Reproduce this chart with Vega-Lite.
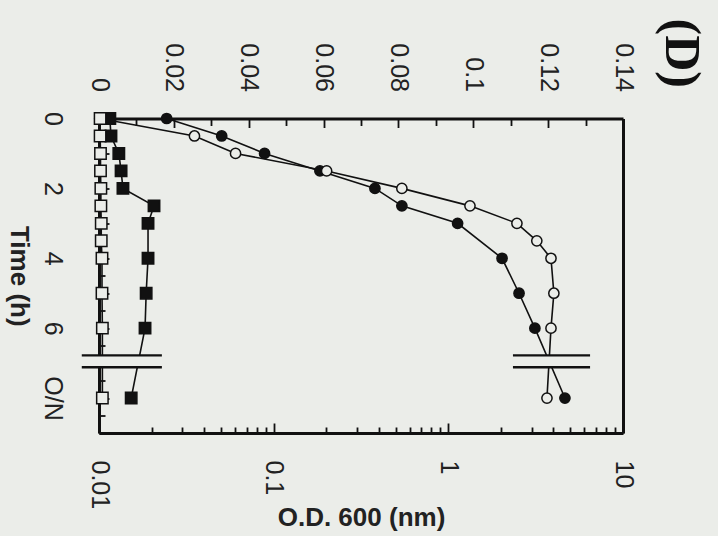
{
  "$schema": "https://vega.github.io/schema/vega-lite/v6.json",
  "width": 524,
  "height": 314.5,
  "autosize": {"type": "none"},
  "padding": {"left": 99, "top": 118.5, "right": 95, "bottom": 103},
  "background": "#ebede9",
  "config": {
    "view": {"stroke": null},
    "axis": {
      "grid": false,
      "domainColor": "#111",
      "domainWidth": 3,
      "tickColor": "#111",
      "tickWidth": 1.8,
      "labelFont": "Liberation Sans",
      "labelFontSize": 25,
      "labelColor": "#222",
      "titleFont": "Liberation Sans",
      "titleFontSize": 26,
      "titleFontWeight": "bold",
      "titleColor": "#222"
    }
  },
  "title": {
    "text": "(D)",
    "orient": "right",
    "anchor": "start",
    "frame": "group",
    "angle": 90,
    "baseline": "bottom",
    "align": "left",
    "font": "Liberation Serif",
    "fontWeight": "bold",
    "fontSize": 50,
    "color": "#111",
    "offset": -29,
    "dx": -100
  },
  "datasets": {
    "growth": [
      {"series": "closed", "time": 0, "od": 0.0244},
      {"series": "closed", "time": 0.5, "od": 0.0504},
      {"series": "closed", "time": 1, "od": 0.0887},
      {"series": "closed", "time": 1.5, "od": 0.184},
      {"series": "closed", "time": 2, "od": 0.38},
      {"series": "closed", "time": 2.5, "od": 0.542},
      {"series": "closed", "time": 3, "od": 1.13},
      {"series": "closed", "time": 4, "od": 2.03},
      {"series": "closed", "time": 5, "od": 2.54},
      {"series": "closed", "time": 6, "od": 3.13},
      {"series": "closed", "time": 8, "od": 4.65},
      {"series": "open", "time": 0, "od": 0.0101},
      {"series": "open", "time": 0.5, "od": 0.0352},
      {"series": "open", "time": 1, "od": 0.0605},
      {"series": "open", "time": 1.5, "od": 0.201},
      {"series": "open", "time": 2, "od": 0.542},
      {"series": "open", "time": 2.5, "od": 1.33},
      {"series": "open", "time": 3, "od": 2.47},
      {"series": "open", "time": 3.5, "od": 3.21},
      {"series": "open", "time": 4, "od": 3.87},
      {"series": "open", "time": 5, "od": 4.02},
      {"series": "open", "time": 6, "od": 3.87},
      {"series": "open", "time": 8, "od": 3.67}
    ],
    "activity": [
      {"series": "closed", "time": 0, "value": 0.0029},
      {"series": "closed", "time": 0.5, "value": 0.0032},
      {"series": "closed", "time": 1, "value": 0.0053},
      {"series": "closed", "time": 1.5, "value": 0.0059},
      {"series": "closed", "time": 2, "value": 0.0064},
      {"series": "closed", "time": 2.5, "value": 0.0147},
      {"series": "closed", "time": 3, "value": 0.0131},
      {"series": "closed", "time": 4, "value": 0.0131},
      {"series": "closed", "time": 5, "value": 0.0126},
      {"series": "closed", "time": 6, "value": 0.0123},
      {"series": "closed", "time": 8, "value": 0.0086},
      {"series": "open", "time": 0, "value": 0.0003},
      {"series": "open", "time": 0.5, "value": 0.0003},
      {"series": "open", "time": 1, "value": 0.0004},
      {"series": "open", "time": 1.5, "value": 0.0004},
      {"series": "open", "time": 2, "value": 0.0005},
      {"series": "open", "time": 2.5, "value": 0.0005},
      {"series": "open", "time": 3, "value": 0.0006},
      {"series": "open", "time": 3.5, "value": 0.0006},
      {"series": "open", "time": 4, "value": 0.0008},
      {"series": "open", "time": 5, "value": 0.0008},
      {"series": "open", "time": 6, "value": 0.0009},
      {"series": "open", "time": 8, "value": 0.0009}
    ],
    "breakBands": [
      {"time": 6.78, "time_end": 7.12, "value": -0.0046, "value_end": 0.0168},
      {"time": 6.78, "time_end": 7.12, "value": 0.1106, "value_end": 0.1312}
    ],
    "breakLines": [
      {"time": 6.78, "value": -0.0046, "value_end": 0.0168},
      {"time": 7.12, "value": -0.0046, "value_end": 0.0168},
      {"time": 6.78, "value": 0.1106, "value_end": 0.1312},
      {"time": 7.12, "value": 0.1106, "value_end": 0.1312}
    ]
  },
  "layer": [
    {
      "data": {"name": "growth"},
      "encoding": {
        "x": {
          "field": "od",
          "type": "quantitative",
          "scale": {"type": "log", "domain": [0.01, 10], "nice": false},
          "axis": {
            "orient": "bottom",
            "values": [0.01, 0.02, 0.03, 0.04, 0.05, 0.06, 0.07, 0.08, 0.09, 0.1, 0.2, 0.3, 0.4, 0.5, 0.6, 0.7, 0.8, 0.9, 1, 2, 3, 4, 5, 6, 7, 8, 9, 10],
            "labelExpr": "indexof([0.01, 0.1, 1, 10], datum.value) >= 0 ? format(datum.value, '~g') : ''",
            "labelAngle": 90,
            "labelAlign": "left",
            "labelBaseline": "middle",
            "labelPadding": 37,
            "tickSize": {"condition": {"test": "indexof([0.01, 0.1, 1, 10], datum.value) >= 0", "value": -10}, "value": -6},
            "title": "O.D. 600 (nm)",
            "titlePadding": -4
          }
        },
        "y": {
          "field": "time",
          "type": "quantitative",
          "scale": {"domain": [0, 9], "reverse": true, "nice": false},
          "axis": {
            "orient": "left",
            "values": [0, 0.5, 1, 1.5, 2, 2.5, 3, 3.5, 4, 4.5, 5, 5.5, 6, 6.5, 7, 7.5, 8, 8.5, 9],
            "labelExpr": "datum.value === 8 ? 'O/N' : (datum.value % 2 === 0 && datum.value <= 6 ? format(datum.value, 'd') : '')",
            "labelAngle": 90,
            "labelAlign": "center",
            "labelBaseline": "top",
            "labelPadding": 45,
            "tickSize": {"condition": {"test": "datum.value % 1 === 0", "value": -10}, "value": -6},
            "title": "Time (h)",
            "titleAngle": 90,
            "titleBaseline": "top",
            "titlePadding": 8
          }
        },
        "order": {"field": "time", "type": "quantitative"}
      },
      "layer": [
        {
          "mark": {"type": "line", "color": "#111", "strokeWidth": 1.6},
          "encoding": {"detail": {"field": "series", "type": "nominal"}}
        },
        {
          "mark": {"type": "point", "shape": "circle", "size": 105, "filled": true, "stroke": "#111", "strokeWidth": 1.5, "opacity": 1},
          "encoding": {
            "fill": {"field": "series", "type": "nominal", "scale": {"domain": ["closed", "open"], "range": ["#111", "#ebede9"]}, "legend": null}
          }
        }
      ]
    },
    {
      "encoding": {
        "x": {
          "field": "value",
          "type": "quantitative",
          "scale": {"domain": [0, 0.14], "nice": false, "zero": false},
          "axis": {
            "orient": "top",
            "values": [0, 0.01, 0.02, 0.03, 0.04, 0.05, 0.06, 0.07, 0.08, 0.09, 0.1, 0.11, 0.12, 0.13, 0.14],
            "labelExpr": "abs(datum.value * 50 - round(datum.value * 50)) < 1e-6 ? format(datum.value, '~g') : ''",
            "labelAngle": 90,
            "labelAlign": "right",
            "labelBaseline": "middle",
            "labelPadding": 36,
            "tickSize": {"condition": {"test": "abs(datum.value * 50 - round(datum.value * 50)) < 1e-6", "value": -9}, "value": -7},
            "title": null
          }
        },
        "y": {
          "field": "time",
          "type": "quantitative",
          "scale": {"domain": [0, 9], "reverse": true, "nice": false},
          "axis": {"orient": "right", "labels": false, "ticks": false, "title": null}
        }
      },
      "layer": [
        {
          "data": {"name": "activity"},
          "mark": {"type": "line", "color": "#111", "strokeWidth": 1.6},
          "encoding": {
            "detail": {"field": "series", "type": "nominal"},
            "order": {"field": "time", "type": "quantitative"}
          }
        },
        {
          "data": {"name": "activity"},
          "mark": {"type": "point", "shape": "square", "size": 130, "filled": true, "stroke": "#111", "strokeWidth": 1.5, "opacity": 1},
          "encoding": {
            "fill": {"field": "series", "type": "nominal", "scale": {"domain": ["closed", "open"], "range": ["#111", "#ebede9"]}, "legend": null}
          }
        },
        {
          "data": {"name": "breakBands"},
          "mark": {"type": "rect", "color": "#ebede9", "opacity": 1},
          "encoding": {
            "x2": {"field": "value_end"},
            "y2": {"field": "time_end"}
          }
        },
        {
          "data": {"name": "breakLines"},
          "mark": {"type": "rule", "color": "#111", "strokeWidth": 2.4},
          "encoding": {
            "x2": {"field": "value_end"}
          }
        }
      ]
    }
  ],
  "resolve": {
    "scale": {"x": "independent", "fill": "independent"},
    "axis": {"x": "independent", "y": "independent"}
  }
}
